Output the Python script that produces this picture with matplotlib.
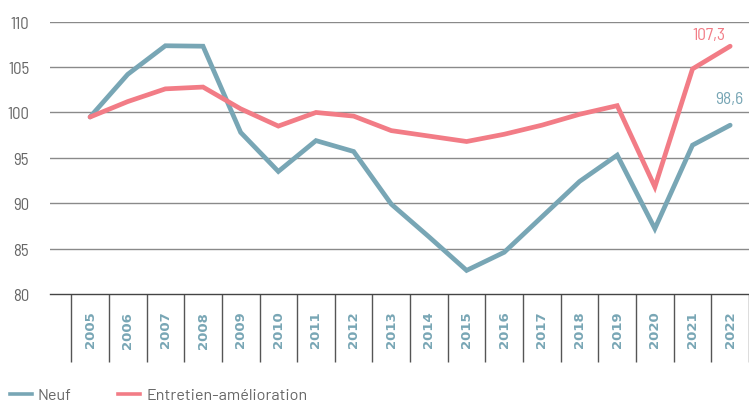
import matplotlib
matplotlib.use("Agg")
import matplotlib.pyplot as plt
import numpy as np
from matplotlib.lines import Line2D

years = [str(y) for y in range(2005, 2023)]
neuf = [99.5, 104.2, 107.35, 107.3, 97.8, 93.5, 96.9, 95.7, 89.9, 86.3,
        82.6, 84.6, 88.5, 92.4, 95.3, 87.2, 96.4, 98.6]
entretien = [99.5, 101.2, 102.6, 102.8, 100.4, 98.5, 100.0, 99.6, 98.0, 97.4,
             96.8, 97.6, 98.6, 99.8, 100.75, 91.8, 104.8, 107.3]
yticks = [80, 85, 90, 95, 100, 105, 110]

TEAL = "#78A6B5"
PINK = "#F27C86"
GRAY = "#666666"
NARROW = ["Barlow Semi Condensed", "DejaVu Sans"]
REG = ["Barlow", "DejaVu Sans"]

fig = plt.figure(figsize=(7.49, 4.06), dpi=100)
ax = fig.add_axes([50 / 749, 1 - 295 / 406, 699 / 749, (295 - 22.7) / 406])

x = np.arange(len(years))
ax.plot(x, neuf, color=TEAL, lw=3.4, solid_capstyle="round", solid_joinstyle="miter", zorder=3)
ax.plot(x, entretien, color=PINK, lw=3.4, solid_capstyle="round", solid_joinstyle="miter", zorder=3)

ax.set_ylim(80, 110)
ax.set_xlim(-1.064, 17.28)
ax.set_yticks(yticks)
ax.set_yticklabels([str(v) for v in yticks], family=NARROW, fontsize=12, color=GRAY)
ax.tick_params(axis="y", length=0, pad=15)
for yv in yticks[1:]:
    ax.axhline(yv, color="#8a8a8a", lw=1.0, zorder=1)

for s in ["top", "right", "left"]:
    ax.spines[s].set_visible(False)
ax.spines["bottom"].set_color("#444444")
ax.spines["bottom"].set_linewidth(1.0)

# category labels at centers
ax.set_xticks(x)
ax.set_xticklabels(years, rotation=90, color=TEAL, fontsize=9.5, fontweight="bold",
                   family="DejaVu Sans")
ax.tick_params(axis="x", which="major", length=0, pad=12)
# separators as minor ticks
ax.set_xticks(np.arange(-0.5, len(years) + 0.5, 1.0), minor=True)
ax.tick_params(axis="x", which="minor", length=49, width=1.0, color="#555555", direction="out")

# end labels
ax.annotate(f"{entretien[-1]:.1f}".replace(".", ","), xy=(x[-1], entretien[-1]),
            xytext=(-21, 12), textcoords="offset pixels", ha="center", va="center",
            color=PINK, fontsize=12.5, family=NARROW)
ax.annotate(f"{neuf[-1]:.1f}".replace(".", ","), xy=(x[-1], neuf[-1]),
            xytext=(-1, 27), textcoords="offset pixels", ha="center", va="center",
            color=TEAL, fontsize=12.5, family=NARROW)

handles = [Line2D([], [], color=TEAL, lw=2.6), Line2D([], [], color=PINK, lw=2.6)]
leg = fig.legend(handles, ["Neuf", "Entretien-amélioration"], loc="center left",
                 bbox_to_anchor=(10 / 749, 1 - 396 / 406), ncol=2, frameon=False,
                 handlelength=1.35, handletextpad=0.37, columnspacing=2.85,
                 borderpad=0, borderaxespad=0,
                 prop={"family": REG, "size": 11.7})
for t in leg.get_texts():
    t.set_color(GRAY)

fig.savefig("out.png", dpi=100)
